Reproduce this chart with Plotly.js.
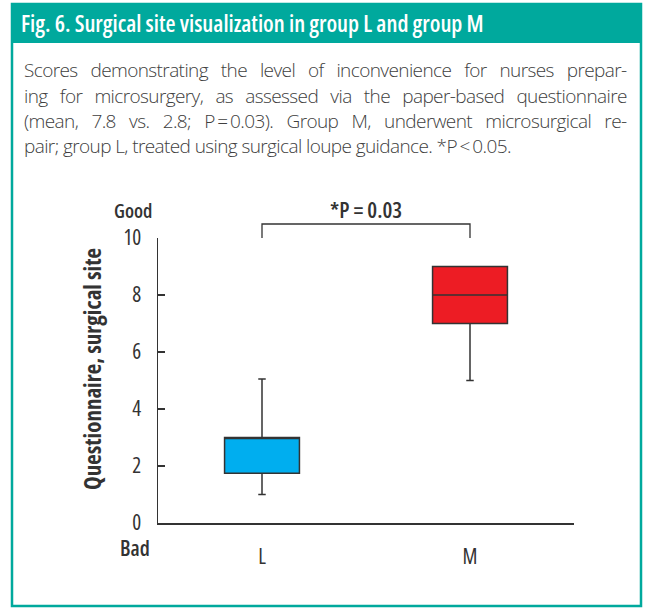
<!DOCTYPE html>
<html>
<head>
<meta charset="utf-8">
<script src="https://cdn.plot.ly/plotly-3.0.1.min.js"></script>
<style>
  html, body { margin: 0; padding: 0; background: #ffffff; }
  #chart { width: 645px; height: 608px; }
  text { font-stretch: 75%; }
</style>
</head>
<body>
<div id="chart"></div>
<script>
// ---- data ----
const groups = ['L', 'M'];
const q1 = [1.75, 7.0];
const medians = [3.0, 8.0];
const q3 = [3.0, 9.0];
const lowerWhisker = [1.0, 5.0];
const upperWhisker = [5.05, 9.0];
const boxColors = ['#00AEEF', '#ED1C24'];
const yTickVals = [0, 2, 4, 6, 8, 10];
const yTickText = ['0', '2', '4', '6', '8', '10'];
const yTitle = 'Questionnaire, surgical site';
const pLabel = '*P = 0.03';
const figTitle = 'Fig. 6. Surgical site visualization in group L and group M';
const captionLines = [
  'Scores demonstrating the level of inconvenience for nurses prepar-',
  'ing for microsurgery, as assessed via the paper-based questionnaire',
  '(mean, 7.8 vs. 2.8; P\u2009=\u20090.03). Group M, underwent microsurgical re-',
  'pair; group L, treated using surgical loupe guidance. *P\u2009&lt;\u20090.05.'
];

// ---- geometry helpers (pixel -> paper) ----
const W = 645, H = 608;
const M = { l: 158, r: 71, t: 238, b: 85 };
const PW = W - M.l - M.r, PH = H - M.t - M.b;
const px = x => (x - M.l) / PW;
const py = y => (H - M.b - y) / PH;

const FONT = '"Open Sans", "Noto Sans", sans-serif';
const TEAL = '#00A99D';
const DARK = '#333333';
const CAP_LEFT = 25, CAP_RIGHT = 628;

const traces = groups.map((g, i) => ({
  type: 'box',
  x: [g],
  q1: [q1[i]],
  median: [medians[i]],
  q3: [q3[i]],
  lowerfence: [lowerWhisker[i]],
  upperfence: [upperWhisker[i]],
  width: 0.36,
  whiskerwidth: 0.1,
  fillcolor: boxColors[i],
  line: { color: DARK, width: 1.5 },
  boxpoints: false,
  hoverinfo: 'skip',
  showlegend: false
}));

const annotations = [];
annotations.push({
  xref: 'paper', yref: 'paper', x: px(19), y: py(23),
  xanchor: 'left', yanchor: 'middle', showarrow: false, align: 'left',
  text: figTitle,
  font: { family: FONT, size: 23, weight: 600, color: '#ffffff' }
});
const capY = [70, 95.5, 121, 146.5];
captionLines.forEach((t, i) => annotations.push({
  xref: 'paper', yref: 'paper', x: px(CAP_LEFT - 3), y: py(capY[i]),
  xanchor: 'left', yanchor: 'middle', showarrow: false, align: 'left',
  text: t,
  font: { family: FONT, size: 19, weight: 300, color: '#404040' }
}));
annotations.push({
  xref: 'x', yref: 'paper', x: 0.5, y: py(209),
  xanchor: 'center', yanchor: 'middle', showarrow: false,
  text: pLabel,
  font: { family: FONT, size: 22, weight: 600, color: DARK }
});
annotations.push({
  xref: 'paper', yref: 'paper', x: px(154), y: py(211),
  xanchor: 'right', yanchor: 'middle', showarrow: false, align: 'right',
  text: 'Good',
  font: { family: FONT, size: 19.5, weight: 600, color: DARK }
});
annotations.push({
  xref: 'paper', yref: 'paper', x: px(152), y: py(548),
  xanchor: 'right', yanchor: 'middle', showarrow: false, align: 'right',
  text: 'Bad',
  font: { family: FONT, size: 21, weight: 600, color: DARK }
});
annotations.push({
  xref: 'paper', yref: 'paper', x: px(92), y: py(369),
  xanchor: 'center', yanchor: 'middle', showarrow: false, textangle: -90,
  text: yTitle,
  font: { family: FONT, size: 23, weight: 700, color: DARK }
});

const shapes = [
  { type: 'rect', xref: 'paper', yref: 'paper', x0: px(12), x1: px(641), y0: py(4), y1: py(606),
    line: { color: TEAL, width: 2.5 }, fillcolor: 'rgba(0,0,0,0)', layer: 'below' },
  { type: 'rect', xref: 'paper', yref: 'paper', x0: px(11), x1: px(642), y0: py(3), y1: py(43),
    line: { width: 0 }, fillcolor: TEAL, layer: 'below' },
  { type: 'path', xref: 'x', yref: 'paper',
    path: 'M 0 ' + py(238) + ' L 0 ' + py(224) + ' L 1 ' + py(224) + ' L 1 ' + py(238),
    line: { color: DARK, width: 1.3 } }
];

const layout = {
  width: W, height: H,
  margin: M,
  paper_bgcolor: '#ffffff',
  plot_bgcolor: '#ffffff',
  font: { family: FONT, color: DARK },
  showlegend: false,
  boxmode: 'overlay',
  xaxis: {
    type: 'category',
    range: [-0.5, 1.5],
    showgrid: false, zeroline: false,
    showline: true, linecolor: DARK, linewidth: 1.5,
    ticks: '',
    tickfont: { family: FONT, size: 21, weight: 500, color: DARK },
    ticklabelstandoff: 14,
    fixedrange: true
  },
  yaxis: {
    range: [0, 10],
    tickvals: yTickVals, ticktext: yTickText,
    showgrid: false, zeroline: false,
    showline: true, linecolor: DARK, linewidth: 1.5,
    ticks: 'inside', ticklen: 7, tickwidth: 1.3, tickcolor: DARK,
    tickfont: { family: FONT, size: 21, weight: 500, color: DARK },
    ticklabelstandoff: 11,
    fixedrange: true
  },
  shapes: shapes,
  annotations: annotations
};

Plotly.newPlot('chart', traces, layout, { staticPlot: true, displayModeBar: false }).then(gd => {
  // caption is set in normal-width type, slightly tracked in; justify lines 1-3 (word spacing)
  const target = CAP_RIGHT - CAP_LEFT;
  for (let i = 1; i <= 4; i++) {
    const t = gd.querySelector('g.annotation[data-index="' + i + '"] text');
    if (!t) continue;
    t.style.fontStretch = '100%';
    t.style.letterSpacing = '-0.6px';
    if (i === 4) continue;
    const len = t.getBBox().width;
    const nSpaces = (t.textContent.match(/ /g) || []).length;
    if (nSpaces > 0) t.style.wordSpacing = ((target - len) / nSpaces) + 'px';
  }
});
</script>
</body>
</html>
